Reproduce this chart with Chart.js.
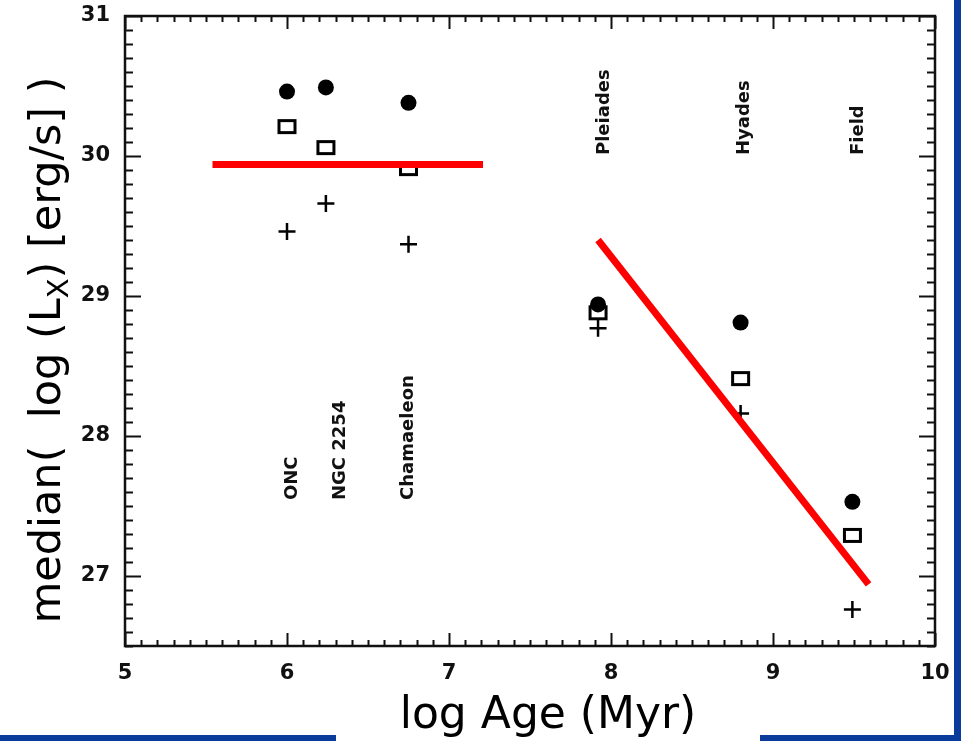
<!DOCTYPE html>
<html>
<head>
<meta charset="utf-8">
<script src="https://cdn.jsdelivr.net/npm/chart.js@4.4.1/dist/chart.umd.min.js"></script>
<style>
  body { margin: 0; background: #fff; }
  #wrap { position: relative; width: 961px; height: 741px; overflow: hidden; }
  .frame { position: absolute; background: #0b3c9c; }
</style>
</head>
<body>
<div id="wrap">
  <canvas id="lxChart"></canvas>
  <div class="frame" style="left:954px; top:0; width:7px; height:741px;"></div>
  <div class="frame" style="left:0; top:735px; width:336px; height:6px;"></div>
  <div class="frame" style="left:760px; top:735px; width:201px; height:6px;"></div>
</div>
<script>
// cluster data
const clusters = ["ONC", "NGC 2254", "Chamaeleon", "Pleiades", "Hyades", "Field"];
const logAge = [6.0, 6.24, 6.75, 7.92, 8.80, 9.49];
const lxCircle = [30.46, 30.49, 30.38, 28.94, 28.81, 27.53];
const lxSquare = [30.21, 30.06, 29.91, 28.88, 28.41, 27.29];
const lxPlus = [29.46, 29.66, 29.37, 28.77, 28.16, 26.76];

// red trend lines
const flatX = [5.54, 7.21];
const flatY = [29.94, 29.94];
const dropX = [7.92, 9.59];
const dropY = [29.40, 26.94];

// axis ticks
const xTicks = [5, 6, 7, 8, 9, 10];
const yTicks = [27, 28, 29, 30, 31];

const toPts = (xs, ys) => xs.map((x, i) => ({ x: x, y: ys[i] }));

// open rectangle marker
const boxMarker = document.createElement("canvas");
boxMarker.width = 21;
boxMarker.height = 17;
(function () {
  const c = boxMarker.getContext("2d");
  c.fillStyle = "#fff";
  c.fillRect(1, 1, 19, 15);
  c.strokeStyle = "#000";
  c.lineWidth = 3;
  c.strokeRect(2.5, 2.5, 16, 12);
})();

// inward ticks on all four sides + box
const boxTicks = {
  id: "boxTicks",
  afterDraw(chart) {
    const ctx = chart.ctx;
    const a = chart.chartArea;
    const xs = chart.scales.x, ys = chart.scales.y;
    ctx.save();
    ctx.strokeStyle = "#111";
    ctx.lineWidth = 2;
    for (let i = 50; i <= 100; i++) {
      const v = i / 10;
      const px = Math.round(xs.getPixelForValue(v)) + 0.5;
      const len = i % 10 === 0 ? 13 : 6;
      ctx.beginPath();
      ctx.moveTo(px, a.bottom); ctx.lineTo(px, a.bottom - len);
      ctx.moveTo(px, a.top); ctx.lineTo(px, a.top + len);
      ctx.stroke();
    }
    for (let i = 265; i <= 310; i++) {
      const v = i / 10;
      const py = Math.round(ys.getPixelForValue(v)) + 0.5;
      const len = i % 10 === 0 ? 16 : 8;
      ctx.beginPath();
      ctx.moveTo(a.left, py); ctx.lineTo(a.left + len, py);
      ctx.moveTo(a.right, py); ctx.lineTo(a.right - len, py);
      ctx.stroke();
    }
    ctx.lineWidth = 2.5;
    ctx.strokeRect(a.left, a.top, a.right - a.left, a.bottom - a.top);

    // cluster names, vertical
    ctx.fillStyle = "#111";
    ctx.font = "bold 18px 'DejaVu Sans'";
    ctx.textAlign = "left";
    ctx.textBaseline = "middle";
    const nudge = [5, 14, 0, 6, 4, 6];
    clusters.forEach((name, i) => {
      const px = xs.getPixelForValue(logAge[i]) + nudge[i];
      const py = i < 3 ? 500 : 155;
      ctx.save();
      ctx.translate(px, py);
      ctx.rotate(-Math.PI / 2);
      ctx.fillText(name, 0, 0);
      ctx.restore();
    });

    // axis titles
    ctx.fillStyle = "#000";
    ctx.font = "44px 'DejaVu Sans'";
    ctx.textAlign = "center";
    ctx.textBaseline = "alphabetic";
    ctx.fillText("log Age (Myr)", 548, 728);

    ctx.save();
    ctx.translate(60, 350);
    ctx.rotate(-Math.PI / 2);
    const big = "43px 'DejaVu Sans'", small = "29px 'DejaVu Sans'";
    const parts = [
      { t: "median(  log (L", f: big, dy: 0 },
      { t: "X", f: small, dy: 8 },
      { t: ") [erg/s] )", f: big, dy: 0 }
    ];
    let total = 0;
    parts.forEach(p => { ctx.font = p.f; p.w = ctx.measureText(p.t).width; total += p.w; });
    let cx = -total / 2;
    ctx.textAlign = "left";
    parts.forEach(p => { ctx.font = p.f; ctx.fillText(p.t, cx, p.dy); cx += p.w; });
    ctx.restore();
    ctx.restore();
  }
};

const tickFont = { family: "DejaVu Sans", size: 21, weight: "bold" };

new Chart(document.getElementById("lxChart"), {
  type: "scatter",
  data: {
    datasets: [
      {
        type: "line",
        label: "flat",
        data: toPts(flatX, flatY),
        borderColor: "#ff0000",
        borderWidth: 7,
        pointRadius: 0,
        borderCapStyle: "butt",
      },
      {
        type: "line",
        label: "decline",
        data: toPts(dropX, dropY),
        borderColor: "#ff0000",
        borderWidth: 7,
        pointRadius: 0,
        borderCapStyle: "butt",
      },
      {
        label: "circle",
        data: toPts(logAge, lxCircle),
        pointStyle: "circle",
        pointRadius: 8,
        backgroundColor: "#000",
        borderColor: "#000",
        borderWidth: 0,
      },
      {
        label: "square",
        data: toPts(logAge, lxSquare),
        pointStyle: boxMarker,
      },
      {
        label: "plus",
        data: toPts(logAge, lxPlus),
        pointStyle: "cross",
        pointRadius: 8.5,
        borderColor: "#000",
        borderWidth: 2.5,
      },
    ],
  },
  options: {
    responsive: true,
    maintainAspectRatio: false,
    devicePixelRatio: 1,
    animation: false,
    layout: { padding: { top: 16, right: 26, left: 0, bottom: 0 } },
    plugins: { legend: { display: false }, tooltip: { enabled: false } },
    scales: {
      x: {
        type: "linear",
        min: 5,
        max: 10,
        afterBuildTicks: (s) => { s.ticks = xTicks.map(v => ({ value: v })); },
        afterFit: (s) => { s.height = 95; s.paddingLeft = 0; s.paddingRight = 0; },
        grid: { display: false, drawTicks: false },
        border: { display: false },
        ticks: { padding: 15, color: "#111", font: tickFont },
      },
      y: {
        type: "linear",
        min: 26.5,
        max: 31,
        afterBuildTicks: (s) => { s.ticks = yTicks.map(v => ({ value: v })); },
        afterFit: (s) => { s.width = 125; s.paddingTop = 0; s.paddingBottom = 0; },
        grid: { display: false, drawTicks: false },
        border: { display: false },
        ticks: { padding: 15, color: "#111", font: tickFont },
      },
    },
  },
  plugins: [boxTicks],
});
</script>
</body>
</html>
